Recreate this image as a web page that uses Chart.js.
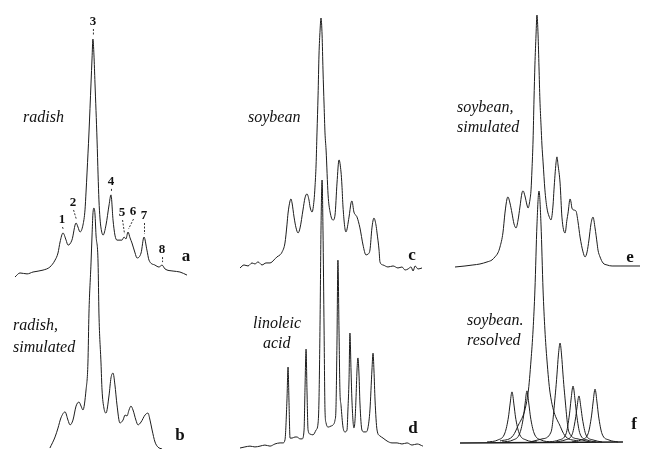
<!DOCTYPE html>
<html>
<head>
<meta charset="utf-8">
<title>Spectra: radish, soybean, linoleic acid</title>
<script src="https://cdn.jsdelivr.net/npm/chart.js@4/dist/chart.umd.min.js"></script>
<style>
  html, body { margin: 0; padding: 0; background: #ffffff; }
  #wrap { position: relative; width: 646px; height: 449px; }
  canvas { display: block; }
</style>
</head>
<body>
<div id="wrap"><canvas id="c" width="646" height="449"></canvas></div>
<script>
// ---------- DATA (relative position 0..100 within each column, intensity % of tallest peak) ----------
// a: radish (measured)
const aX = [0,2.9,7.0,10.5,16.3,20.3,23.3,25.0,26.2,27.9,29.7,30.8,33.1,35.5,36.6,37.8,39.5,40.7,41.3,41.9,43.0,44.2,44.8,45.3,45.9,46.5,47.7,48.3,48.8,49.4,50.0,51.2,52.9,54.7,55.8,57.0,58.1,59.3,62.2,63.4,64.5,65.7,66.9,68.0,69.8,70.9,73.3,75.0,76.7,77.9,81.4,83.7,85.5,87.2,91.9,95.9,100];
const aY = [0,1.7,1.3,2.1,2.9,4.2,7.1,10.1,14.7,18.5,15.5,13.4,15.5,22.7,21.0,18.9,21.8,28.2,35.7,44.1,60.5,81.5,92.0,100,93.3,81.5,57.6,42.9,32.4,24.8,20.6,17.6,21.8,30.3,34.5,23.9,17.6,15.5,15.5,16.8,16.0,18.9,16.4,14.3,10.1,8.0,10.1,16.8,11.3,7.1,5.0,4.2,5.0,3.4,2.5,2.1,0.8];
// peak numbering of spectrum a
const aPeakLabels = ['1','2','3','4','5','6','7','8'];
const aPeakX = [27.9,35.5,45.3,55.8,63.4,65.7,75.0,85.5];
const aPeakY = [18.5,22.7,100,34.5,16.8,18.9,16.8,5.0];

// b: radish, simulated
const bX = [20.3,23.3,25.0,26.7,29.1,30.8,32.0,33.7,35.5,37.2,38.4,39.5,41.3,42.4,43.0,44.2,44.8,45.3,45.9,46.5,47.1,48.3,48.8,50.0,50.6,51.7,52.9,54.7,55.8,57.0,58.1,59.3,61.0,62.8,64.0,65.1,66.3,67.4,68.6,70.3,71.5,73.3,75.6,77.3,78.5,79.7,81.4,83.1,85.5];
const bY = [0.4,5.0,8.7,12.9,15.4,12.0,10.0,12.0,17.8,19.5,17.8,16.2,24.5,35.7,56.4,77.2,88.8,97.5,100,97.5,88.8,77.2,56.4,35.7,24.5,17.0,14.9,22.4,29.5,31.5,26.6,18.3,10.8,12.0,14.1,13.7,16.2,17.8,16.2,12.0,10.0,11.2,14.1,14.9,12.0,7.9,2.9,0.8,0];

// c: soybean (measured)
const cX = [0,2.2,4.4,6.6,8.2,9.9,12.1,14.3,16.5,18.7,20.3,22.0,23.1,24.7,25.8,26.4,27.5,28.0,28.6,29.7,30.8,31.9,33.0,34.6,35.7,36.8,37.9,38.5,39.6,40.7,41.2,41.8,42.3,42.9,43.4,44.0,44.5,45.1,45.6,46.2,46.7,47.3,48.4,49.5,51.1,52.2,53.3,54.4,55.5,56.0,56.6,58.2,59.9,61.0,61.5,62.6,64.3,65.9,67.6,69.2,70.3,71.4,72.5,73.6,74.7,75.3,76.4,76.9,78.6,81.3,84.1,86.8,89.0,90.7,92.3,94.0,95.1,96.2,97.8,100];
const cY = [0.8,2.0,1.6,2.8,2.4,3.2,2.0,2.8,2.8,4.0,5.2,6.0,7.1,10.7,17.9,22.6,27.4,28.2,26.6,21.0,16.7,14.7,16.7,23.8,28.6,30.2,27.8,25.0,23.0,27.8,32.9,41.7,54.4,69.4,85.3,95.2,100,93.3,79.4,65.5,54.4,47.6,29.8,23.0,19.8,21.8,34.5,43.7,38.9,33.7,25.0,15.1,21.0,26.6,27.4,23.0,21.0,16.7,9.9,6.0,6.3,7.9,16.7,20.6,17.9,14.7,7.9,3.2,2.0,1.2,1.6,0.8,1.2,0,0.4,1.2,-0.4,1.6,0.4,0.8];

// d: linoleic acid
const dX = [0,2.7,5.5,8.2,11.0,13.7,16.5,19.2,22.0,23.6,24.7,25.8,26.4,26.9,27.5,28.6,30.2,31.3,33.0,34.1,35.2,35.7,36.3,36.8,37.4,38.5,40.1,41.8,42.9,43.4,44.0,44.5,45.1,45.6,46.2,46.7,47.3,48.4,50.0,51.1,52.2,52.7,53.3,53.8,54.4,54.9,55.5,56.6,57.7,58.8,59.3,59.9,60.4,61.0,61.5,62.6,63.2,63.7,64.3,64.8,65.4,65.9,67.0,68.1,69.2,70.3,71.4,72.5,73.1,73.6,74.2,75.3,76.9,78.6,80.8,83.5,86.3,89.0,91.8,94.5,97.3,100.5];
const dY = [0,0.4,0.7,0.4,0.7,1.1,0.7,1.5,1.9,1.9,3.0,17.9,30.2,17.9,3.7,3.7,4.1,4.1,3.4,3.4,6.7,21.6,36.9,21.6,6.7,5.2,4.9,6.7,9.3,17.9,47.8,81.3,100,81.3,44.0,14.2,9.3,7.8,8.2,8.6,10.4,14.2,40.3,70.1,44.0,21.6,16.0,7.8,6.0,6.7,14.2,25.4,42.9,29.1,17.9,7.5,10.4,17.9,29.1,33.6,27.2,16.8,6.7,6.0,6.0,7.5,14.2,29.1,35.4,29.1,17.9,6.7,4.5,3.7,2.6,1.9,1.9,1.5,1.9,1.1,1.5,0.7];

// e: soybean, simulated
const eX = [0,5.4,9.7,13.5,17.3,20.0,21.6,23.2,24.3,25.9,27.0,28.1,28.6,29.7,30.8,31.9,33.0,34.1,35.1,36.2,36.8,37.8,38.9,39.5,40.5,41.1,41.6,42.2,42.7,43.2,43.8,44.3,44.9,45.4,45.9,46.5,47.0,47.6,48.6,49.7,50.8,51.9,53.0,53.5,54.6,55.1,55.7,56.8,57.8,59.5,60.5,61.1,62.2,62.7,63.2,64.3,65.4,66.5,67.6,69.2,70.3,71.4,72.4,73.5,74.6,75.7,76.8,77.3,78.4,80.0,82.2,84.9,89.2,94.6,100];
const eY = [0,0.4,0.8,1.2,2.0,2.8,4.0,5.6,7.9,13.5,21.4,27.0,27.8,25.4,21.4,17.1,15.5,18.7,23.8,29.4,30.2,28.2,24.6,23.4,26.6,30.6,38.5,50.4,66.3,80.2,92.1,100,92.1,79.4,66.3,56.3,48.4,41.7,30.6,23.4,20.2,18.7,24.6,30.6,41.3,43.7,40.5,33.3,19.8,13.5,18.7,21.4,27.0,25.8,23.4,22.6,22.2,17.9,11.9,6.0,4.0,6.0,10.7,17.1,19.8,15.5,9.5,6.7,4.0,1.6,0.8,0.4,0.4,0.4,0.4];

// f: soybean, resolved into components
const fBaseX = [2.7,90.8];
const fBaseY = [0,0.4];
const f1X = [17.3,23.2,27.0,28.9,29.7,30.8,31.9,32.7,34.6,38.4,44.3];
const f1Y = [0.4,1.2,4.0,10.3,15.0,20.2,15.0,10.3,4.0,1.2,0.4];
const f2X = [25.4,31.4,35.1,37.0,37.8,38.9,40.0,40.8,42.7,46.5,52.4];
const f2Y = [0.4,1.2,4.0,10.3,15.0,20.6,15.0,10.3,4.0,1.2,0.4];
const f3X = [24.3,30.8,33.5,39.5,41.1,42.2,43.2,44.3,45.4,46.5,47.6,48.6,49.7,51.4,57.3,60.0,66.5];
const f3Y = [0.8,2.4,5.9,19.8,32.8,44.7,60.5,86.2,99.6,86.2,60.5,44.7,32.8,19.8,5.9,2.4,0.8];
const f4X = [40.5,47.0,51.9,54.3,55.1,55.9,56.8,57.6,58.4,59.2,61.6,66.5,73.0];
const f4Y = [0.4,1.6,4.3,19.8,26.9,34.8,39.5,34.8,26.9,19.8,4.3,1.6,0.4];
const f5X = [51.4,56.2,60.0,61.9,62.7,63.8,64.9,65.7,67.6,71.4,76.2];
const f5Y = [0.4,1.2,3.6,11.5,17.0,22.5,17.0,11.5,3.6,1.2,0.4];
const f6X = [54.6,59.5,63.2,65.1,65.9,67.0,68.1,68.9,70.8,74.6,79.5];
const f6Y = [0.4,1.2,3.2,9.5,13.8,18.6,13.8,9.5,3.2,1.2,0.4];
const f7X = [63.2,68.1,71.9,73.8,74.6,75.7,76.8,77.6,79.5,83.2,88.1];
const f7Y = [0.4,1.2,3.6,10.7,15.8,21.3,15.8,10.7,3.6,1.2,0.4];

// ---------- LAYOUT (pixel boxes of the six panels on the 646x449 page) ----------
const W = 646, H = 449;
const colBox = { xa: [15, 187], xc: [240, 422], xe: [455, 640] };          // pixel of value 0 and 100
const rowBox = { ya: [277, 39], yb: [449, 208], yc: [270, 18],
                 yd: [448, 180], ye: [267, 15], yf: [443, 190] };           // pixel of value 0 and 100

function xScale(b) {
  const k = (b[1] - b[0]) / 100;
  return { type: 'linear', display: false, min: -b[0] / k, max: (W - b[0]) / k };
}
function yScale(b) {
  const k = (b[0] - b[1]) / 100;
  const max = 100 + b[1] / k;
  return { type: 'linear', display: false, min: max - H / k, max: max };
}
const scales = {};
for (const id in colBox) scales[id] = xScale(colBox[id]);
for (const id in rowBox) scales[id] = yScale(rowBox[id]);

const pts = (xs, ys) => xs.map((x, i) => ({ x: x, y: ys[i] }));
const INK = '#1c1c1c';
function series(name, xs, ys, xid, yid, width) {
  return {
    label: name, data: pts(xs, ys), xAxisID: xid, yAxisID: yid,
    showLine: true, borderColor: INK, borderWidth: width || 1,
    pointRadius: 0, cubicInterpolationMode: 'monotone', fill: false
  };
}

const datasets = [
  series('a', aX, aY, 'xa', 'ya'),
  series('b', bX, bY, 'xa', 'yb'),
  series('c', cX, cY, 'xc', 'yc'),
  series('d', dX, dY, 'xc', 'yd'),
  series('e', eX, eY, 'xe', 'ye'),
  series('f base', fBaseX, fBaseY, 'xe', 'yf', 1.3),
  series('f1', f1X, f1Y, 'xe', 'yf'),
  series('f2', f2X, f2Y, 'xe', 'yf'),
  series('f3', f3X, f3Y, 'xe', 'yf'),
  series('f4', f4X, f4Y, 'xe', 'yf'),
  series('f5', f5X, f5Y, 'xe', 'yf'),
  series('f6', f6X, f6Y, 'xe', 'yf'),
  series('f7', f7X, f7Y, 'xe', 'yf')
];

// ---------- TEXT ----------
const ITALIC = "italic 16px 'Liberation Serif', 'DejaVu Serif', serif";
const LETTER = "bold 17px 'Liberation Serif', 'DejaVu Serif', serif";
const NUMF = "bold 13px 'Liberation Serif', 'DejaVu Serif', serif";
const captions = [
  { t: 'radish', x: 23, y: 122 },
  { t: 'radish,', x: 13, y: 330 },
  { t: 'simulated', x: 13, y: 352 },
  { t: 'soybean', x: 248, y: 122 },
  { t: 'linoleic', x: 253, y: 328 },
  { t: 'acid', x: 263, y: 348 },
  { t: 'soybean,', x: 457, y: 112 },
  { t: 'simulated', x: 457, y: 132 },
  { t: 'soybean.', x: 467, y: 325 },
  { t: 'resolved', x: 467, y: 345 }
];
const letters = [
  { t: 'a', x: 186, y: 261 }, { t: 'b', x: 180, y: 440 },
  { t: 'c', x: 412, y: 260 }, { t: 'd', x: 413, y: 433 },
  { t: 'e', x: 630, y: 262 }, { t: 'f', x: 634, y: 429 }
];
// offset of each peak number from its peak top, in pixels
const numOffset = [[-1,-13],[-3,-20],[0,-17],[0,-13],[-2,-24],[5,-20],[0,-21],[0,-15]];

const textPlugin = {
  id: 'textPlugin',
  afterDraw(chart) {
    const ctx = chart.ctx;
    ctx.save();
    ctx.fillStyle = '#111';
    ctx.textBaseline = 'alphabetic';
    ctx.textAlign = 'left';
    ctx.font = ITALIC;
    captions.forEach(c => ctx.fillText(c.t, c.x, c.y));
    ctx.textAlign = 'center';
    ctx.font = LETTER;
    letters.forEach(c => ctx.fillText(c.t, c.x, c.y));
    // peak numbers of spectrum a
    const sx = chart.scales.xa, sy = chart.scales.ya;
    ctx.font = NUMF;
    ctx.textBaseline = 'middle';
    ctx.strokeStyle = '#333';
    ctx.lineWidth = 1;
    ctx.setLineDash([2, 1.5]);
    aPeakLabels.forEach((lab, i) => {
      const px = sx.getPixelForValue(aPeakX[i]);
      const py = sy.getPixelForValue(aPeakY[i]);
      const tx = px + numOffset[i][0], ty = py + numOffset[i][1];
      ctx.fillText(lab, tx, ty);
      ctx.beginPath();
      ctx.moveTo(tx + 0.5, ty + 7);
      ctx.lineTo(px + 0.5, py - 3);
      ctx.stroke();
    });
    ctx.restore();
  }
};

new Chart(document.getElementById('c'), {
  type: 'scatter',
  data: { datasets: datasets },
  options: {
    responsive: false,
    devicePixelRatio: 1,
    animation: false,
    events: [],
    layout: { padding: 0 },
    scales: scales,
    plugins: { legend: { display: false }, tooltip: { enabled: false }, title: { display: false } }
  },
  plugins: [textPlugin]
});
</script>
</body>
</html>
